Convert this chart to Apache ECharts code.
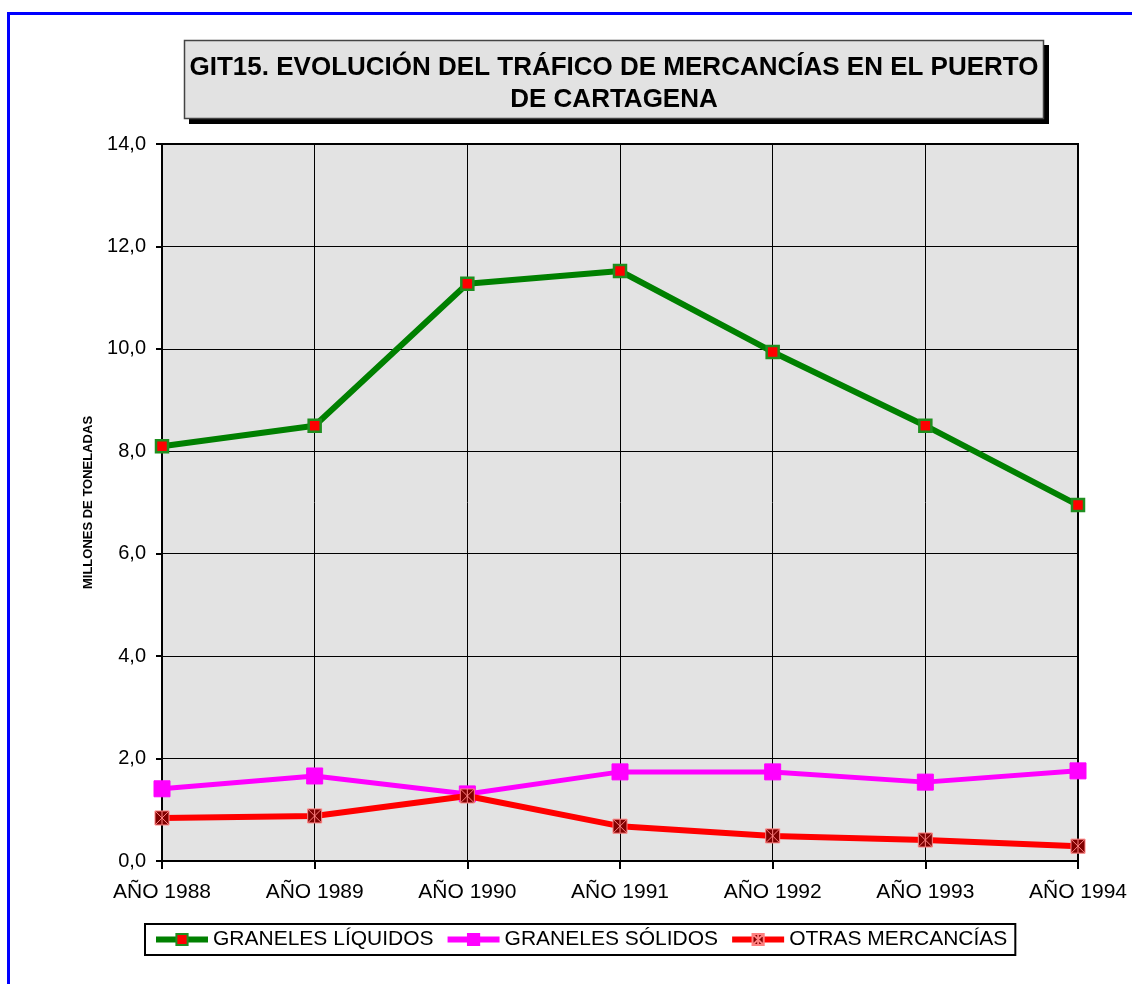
<!DOCTYPE html>
<html>
<head>
<meta charset="utf-8">
<script src="https://cdn.jsdelivr.net/npm/echarts@6/dist/echarts.min.js"></script>
<style>
  html, body { margin: 0; padding: 0; background: #fff; }
  #main { width: 1132px; height: 984px; }
</style>
</head>
<body>
<div id="main"></div>
<script>
// datos (millones de toneladas)
var years = ['AÑO 1988', 'AÑO 1989', 'AÑO 1990', 'AÑO 1991', 'AÑO 1992', 'AÑO 1993', 'AÑO 1994'];
var liquidos = [8.1, 8.5, 11.27, 11.52, 9.94, 8.5, 6.95];
var solidos = [1.41, 1.66, 1.31, 1.74, 1.74, 1.54, 1.76];
var otras = [0.84, 0.88, 1.27, 0.68, 0.49, 0.41, 0.29];
var seriesNames = ['GRANELES LÍQUIDOS', 'GRANELES SÓLIDOS', 'OTRAS MERCANCÍAS'];

var font = 'Liberation Sans, Arial, sans-serif';
var myChart = echarts.init(document.getElementById('main'));

var option = {
    backgroundColor: '#fff',
    animation: false,
    graphic: [
        // marco azul
        { type: 'rect', shape: { x: 8.5, y: 13.5, width: 1200, height: 1100 },
          style: { fill: 'none', stroke: '#0000ff', lineWidth: 3 }, z: 100 },
        // caja del título con sombra
        { type: 'rect', shape: { x: 189, y: 45, width: 860, height: 79 },
          style: { fill: '#000' } },
        { type: 'rect', shape: { x: 184.5, y: 40.5, width: 859, height: 78 },
          style: { fill: '#e2e2e2', stroke: '#444', lineWidth: 1.5 } },
        { type: 'text', x: 614, y: 84,
          style: {
              text: 'GIT15. EVOLUCIÓN DEL TRÁFICO DE MERCANCÍAS EN EL PUERTO\nDE CARTAGENA',
              font: 'bold 26px ' + font, fill: '#000',
              align: 'center', verticalAlign: 'middle', lineHeight: 32
          } }
    ],
    grid: {
        left: 162, right: 54, top: 144, bottom: 123,
        show: true, backgroundColor: '#e3e3e3', borderColor: '#000', borderWidth: 2
    },
    legend: {
        data: seriesNames,
        left: 145, top: 924,
        padding: [5, 8],
        itemGap: 11,
        itemWidth: 52, itemHeight: 14,
        borderColor: '#000', borderWidth: 2,
        lineStyle: { width: 6 },
        textStyle: { fontFamily: font, fontSize: 21, color: '#000' }
    },
    xAxis: {
        type: 'category',
        boundaryGap: false,
        data: years,
        axisLine: { lineStyle: { color: '#000', width: 2 } },
        axisTick: { show: true, length: 8, lineStyle: { color: '#000', width: 2 } },
        axisLabel: { fontFamily: font, fontSize: 21, color: '#000', margin: 21 },
        splitLine: { show: true, lineStyle: { color: '#000', width: 1 } }
    },
    yAxis: {
        type: 'value',
        min: 0, max: 14, interval: 2,
        name: 'MILLONES DE TONELADAS',
        nameLocation: 'middle',
        nameGap: 67,
        nameTextStyle: { fontFamily: font, fontSize: 13, fontWeight: 'bold', color: '#000' },
        axisLine: { show: true, lineStyle: { color: '#000', width: 2 } },
        axisTick: { show: true, length: 6, lineStyle: { color: '#000', width: 2 } },
        axisLabel: {
            fontFamily: font, fontSize: 20, color: '#000', margin: 16,
            formatter: function (v) { return v.toFixed(1).replace('.', ','); }
        },
        splitLine: { show: true, lineStyle: { color: '#000', width: 1 } }
    },
    series: [
        {
            name: seriesNames[0],
            type: 'line',
            data: liquidos,
            symbol: 'rect',
            symbolSize: 12,
            lineStyle: { color: '#008000', width: 6 },
            itemStyle: { color: '#ff0000', borderColor: '#1f8f1f', borderWidth: 2.5 },
            z: 4
        },
        {
            name: seriesNames[1],
            type: 'line',
            data: solidos,
            symbol: 'rect',
            symbolSize: 16,
            lineStyle: { color: '#ff00ff', width: 5 },
            itemStyle: { color: '#ff00ff', borderColor: '#ff00ff', borderWidth: 1 },
            z: 3
        },
        {
            name: seriesNames[2],
            type: 'line',
            data: otras,
            symbol: 'path://M0,0H10V10H0Z M0,0L10,10 M10,0L0,10 M5,0V10',
            symbolSize: 14,
            lineStyle: { color: '#ff0000', width: 6 },
            itemStyle: { color: '#800000', borderColor: '#ff8080', borderWidth: 1 },
            z: 5
        }
    ]
};
myChart.setOption(option);
</script>
</body>
</html>
